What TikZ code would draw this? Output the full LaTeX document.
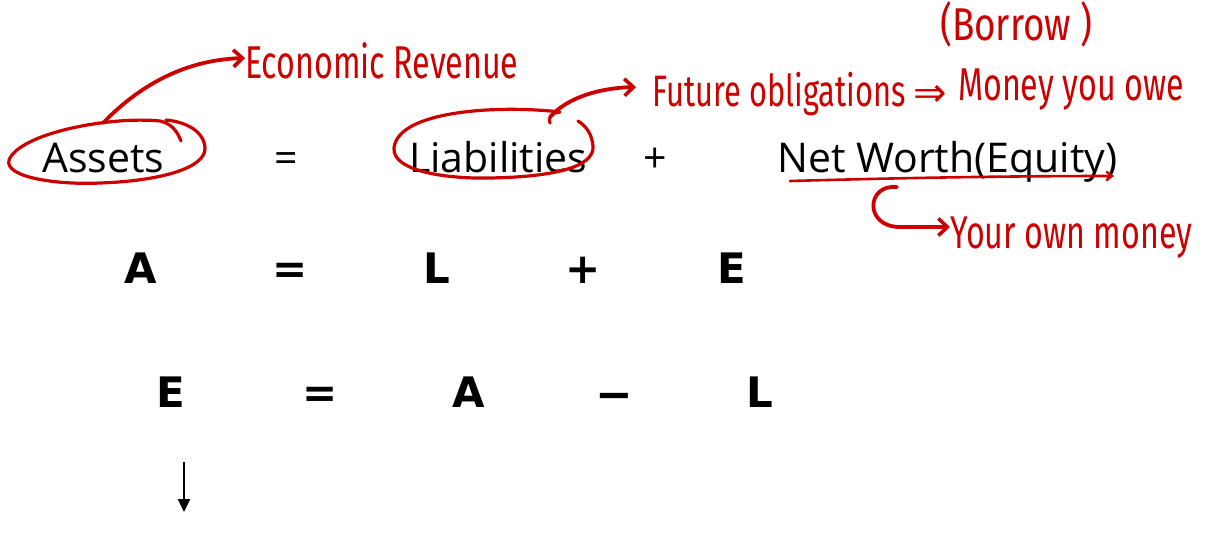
\documentclass[tikz,border=0pt]{standalone}
\usepackage{fontspec}
\usetikzlibrary{arrows.meta}
\setmainfont{Open Sans}
\newfontfamily\boldeq{DejaVu Sans}
\newfontfamily\hand[FakeStretch=0.70]{Fira Sans}
\newfontfamily\handwide[FakeStretch=0.80]{Fira Sans}
\newfontfamily\symb{DejaVu Sans}
\definecolor{ink}{RGB}{205,0,0}
\tikzset{
  word/.style={inner sep=0pt, anchor=base west, font=\fontsize{41}{41}\selectfont},
  op/.style={inner sep=0pt, anchor=base, font=\fontsize{41}{41}\selectfont},
  eqsym/.style={inner sep=0pt, anchor=base, font=\boldeq\bfseries\fontsize{42}{42}\selectfont},
  note/.style={inner sep=0pt, anchor=base west, text=ink, font=\hand\fontsize{46}{46}\selectfont},
  pen/.style={draw=ink, line width=3.2pt, line cap=round, line join=round},
  penarrow/.style={pen, line width=3.8pt, -{Straight Barb[length=9pt,width=17pt,line width=3.6pt]}}
}
\begin{document}
\begin{tikzpicture}[x=1pt,y=-1pt]
\useasboundingbox (0,0) rectangle (1219,541);
\fill[white] (0,0) rectangle (1219,541);

% first line of the equation, in words
\node[word] (assets) at (42,172) {Assets};
\node[op]   (eq1)    at (286,172) {=};
\node[word] (liab)   at (409,172) {Liabilities};
\node[op]   (plus1)  at (655,172) {+};
\node[word] (nw)     at (777,172) {Net Worth(Equity)};

% A = L + E
\node[eqsym] (a2)  at (141,283) {A};
\node[eqsym] (e2q) at (290,283) {=};
\node[eqsym] (l2)  at (437,283) {L};
\node[eqsym] (p2)  at (583,283) {+};
\node[eqsym] (e2)  at (732,283) {E};

% E = A - L
\node[eqsym] (e3)  at (171,407) {E};
\node[eqsym] (e3q) at (320,407) {=};
\node[eqsym] (a3)  at (469,407) {A};
\node[eqsym] (m3)  at (614,407) {\scalebox{1.7}[1]{–}};
\node[eqsym] (l3)  at (760,407) {L};

\coordinate (down) at (184,512);
\draw[line width=2.4pt, -{Triangle[length=13pt,width=12pt]}] (184,462) -- (down);

% hand-written annotations
\node[note] (econ)   at (245,78)  {Economic Revenue};
\node[note, font=\hand\fontsize{44}{44}\selectfont] (future) at (652,106) {Future obligations};
\node[note, font=\symb\fontsize{40}{40}\selectfont] (impl) at (913,106) {⇒};
\node[note] (money)  at (958,100) {Money you owe};
\node[note, font=\handwide\fontsize{46}{46}\selectfont] (borrow) at (940,40) {(Borrow )};
\node[note] (own)    at (950,248) {Your own money};

% loop around "Assets"
\draw[pen] (181,141) .. controls (177,131) and (172,124) .. (160,121)
  .. controls (110,116) and (20,133) .. (9,160)
  .. controls (4,178) and (60,185) .. (100,183)
  .. controls (160,181) and (206,168) .. (205,148)
  .. controls (204,131) and (186,122) .. (166,120);
\draw[penarrow] (103,123) .. controls (140,85) and (185,60) .. (econ.base west |- 0,58);

% loop around "Liabilities"
\draw[pen] (550,123) .. controls (548,116) and (552,113) .. (560,112)
  .. controls (500,105) and (398,110) .. (394,148)
  .. controls (392,172) and (450,179) .. (490,178)
  .. controls (550,177) and (595,168) .. (593,146)
  .. controls (592,134) and (586,126) .. (578,121);
\draw[penarrow] (550,117) .. controls (568,97) and (600,88) .. (636,87);

% underline of the equity term and the arrow below it
\draw[pen, line width=2.6pt, -{Straight Barb[length=6pt,width=9pt,line width=2.2pt]}] (790,181) .. controls (900,178) and (1000,176) .. (1114,176);
\draw[penarrow] (897,187) .. controls (866,184) and (864,227) .. (900,227) -- (own.base west |- 0,227);
\end{tikzpicture}
\end{document}
